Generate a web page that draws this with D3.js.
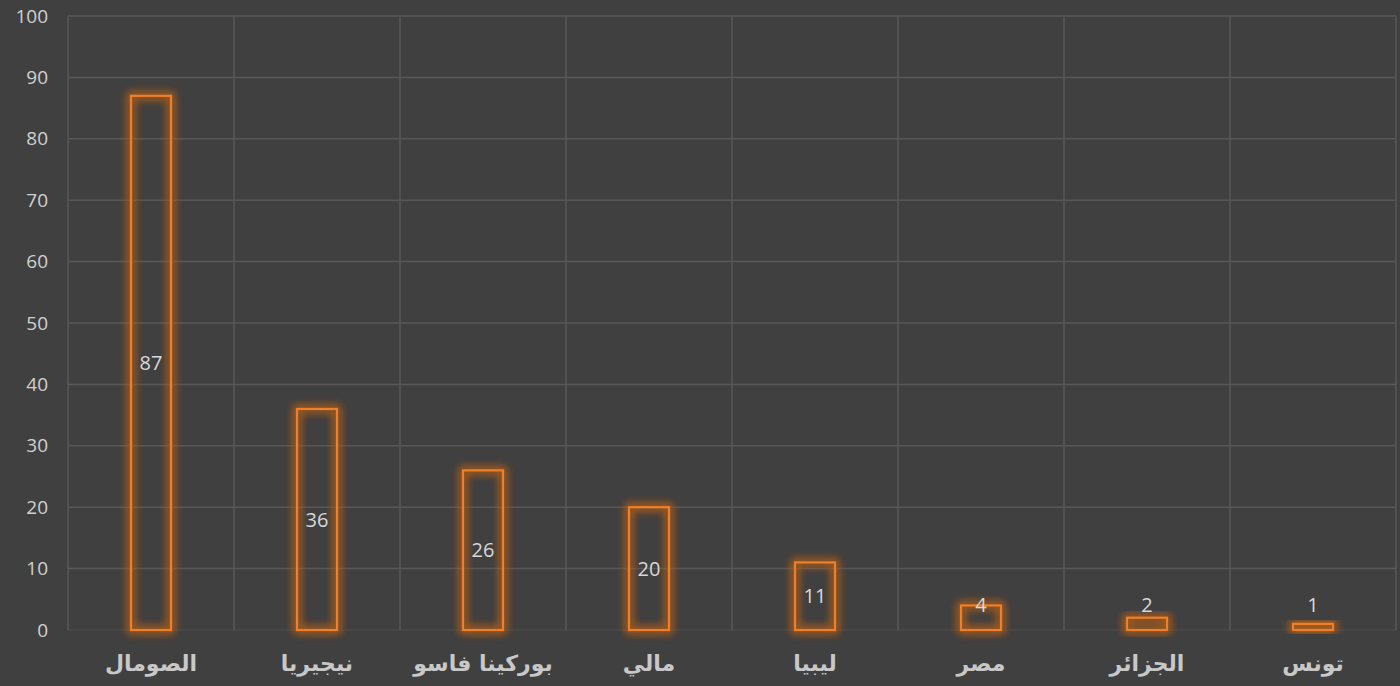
<!DOCTYPE html>
<html><head><meta charset="utf-8">
<script src="https://cdn.jsdelivr.net/npm/d3@7/dist/d3.min.js"></script>
<style>
html,body{margin:0;padding:0;background:#404040;}
svg{display:block;}
</style></head>
<body>
<svg id="chart" width="1400" height="686"></svg>
<script>
const categories = ["الصومال","نيجيريا","بوركينا فاسو","مالي","ليبيا","مصر","الجزائر","تونس"];
const values = [87,36,26,20,11,4,2,1];
const yTicks = [0,10,20,30,40,50,60,70,80,90,100];

const W = 1400, H = 686;
const m = {left:68, right:4, top:16, bottom:56};
const svg = d3.select("#chart");
svg.append("rect").attr("width",W).attr("height",H).attr("fill","#404040");

const defs = svg.append("defs");
const f = defs.append("filter").attr("id","glow").attr("x","-50%").attr("y","-50%").attr("width","200%").attr("height","200%");
f.append("feGaussianBlur").attr("in","SourceGraphic").attr("stdDeviation",4).attr("result","b");
const mg = f.append("feMerge");
mg.append("feMergeNode").attr("in","b");
mg.append("feMergeNode").attr("in","b");

const x = d3.scaleBand().domain(categories).range([m.left, W - m.right]).paddingInner(0).paddingOuter(0);
const y = d3.scaleLinear().domain([0,100]).range([H - m.bottom, m.top]);

// horizontal grid
svg.append("g").selectAll("line").data(yTicks).join("line")
  .attr("x1", m.left).attr("x2", W - m.right)
  .attr("y1", d => y(d)).attr("y2", d => y(d))
  .attr("stroke", d => d === 0 ? "#4a4a4a" : "#575757").attr("stroke-width",1.5);

// vertical grid
const bounds = categories.map(c => x(c)).concat([W - m.right]);
svg.append("g").selectAll("line").data(bounds).join("line")
  .attr("x1", d => d).attr("x2", d => d)
  .attr("y1", y(100)).attr("y2", y(0))
  .attr("stroke", "#575757").attr("stroke-width",1.5);

// y axis labels
const yAxis = d3.axisLeft(y).tickValues(yTicks).tickSize(0).tickPadding(20);
const ga = svg.append("g").attr("transform",`translate(${m.left},0)`).call(yAxis);
ga.select(".domain").remove();
ga.selectAll("text").attr("fill","#d0d0d0").attr("font-size","19px").attr("font-family","'Open Sans', 'Liberation Sans', sans-serif");

// bars
const bw = 40;
const bars = svg.append("g");
const data = categories.map((c,i)=>({c, v: values[i]}));
bars.selectAll("rect.glow").data(data).join("rect").attr("class","glow")
  .attr("x", d => x(d.c) + x.bandwidth()/2 - bw/2)
  .attr("y", d => y(d.v))
  .attr("width", bw).attr("height", d => y(0) - y(d.v))
  .attr("fill","none").attr("stroke","#b8601f").attr("stroke-opacity",0.6).attr("stroke-width",7)
  .attr("filter","url(#glow)");
bars.selectAll("rect.bar").data(data).join("rect").attr("class","bar")
  .attr("x", d => x(d.c) + x.bandwidth()/2 - bw/2)
  .attr("y", d => y(d.v))
  .attr("width", bw).attr("height", d => y(0) - y(d.v))
  .attr("fill","none").attr("stroke","#f07f2a").attr("stroke-width",2.2);

// value labels
svg.append("g").selectAll("text").data(data).join("text")
  .attr("x", d => x(d.c) + x.bandwidth()/2)
  .attr("y", d => Math.min(y(d.v/2), y(0) - 25))
  .attr("dy","0.36em")
  .attr("text-anchor","middle")
  .attr("fill","#d8d8d8").attr("font-size","20px")
  .attr("font-family","'Open Sans', 'Liberation Sans', sans-serif")
  .text(d => d.v);

// x labels
svg.append("g").selectAll("text").data(categories).join("text")
  .attr("x", d => x(d) + x.bandwidth()/2)
  .attr("y", 663)
  .attr("dy","0.36em")
  .attr("text-anchor","middle")
  .attr("direction","rtl")
  .attr("fill","#c8c8c8").attr("font-size","22px").attr("font-weight","bold")
  .attr("font-family","'DejaVu Sans', 'Noto Sans', sans-serif")
  .text(d => d);
</script>
</body></html>
